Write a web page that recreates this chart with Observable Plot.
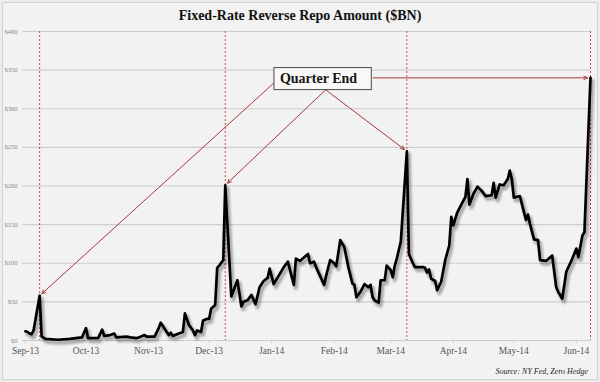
<!DOCTYPE html>
<html>
<head>
<meta charset="utf-8">
<script src="https://cdn.jsdelivr.net/npm/d3@7"></script>
<script src="https://cdn.jsdelivr.net/npm/@observablehq/plot@0.6"></script>
<style>
  html, body { margin: 0; padding: 0; background: #ececec; }
  #wrap { position: relative; width: 600px; height: 382px; background: #ececec; overflow: hidden; }
  #frame { position: absolute; left: 2px; top: 2px; width: 594px; height: 376px; border: 1px solid #d2d2d2; background: #f2f2f2; }
  #title { position: absolute; left: 0; top: 8px; width: 600px; text-align: center; font: bold 14px "Liberation Serif", serif; line-height: 16px; color: #111; }
  #chart { position: absolute; left: 0; top: 27px; }
  #source { position: absolute; right: 12px; top: 366px; font: italic 8px "Liberation Serif", serif; line-height: 12px; color: #222; }
</style>
</head>
<body>
<div id="wrap">
  <div id="frame"></div>
  <div id="title">Fixed-Rate Reverse Repo Amount ($BN)</div>
  <div id="chart"></div>
  <div id="source">Source: NY Fed, Zero Hedge</div>
</div>
<script>
// ---- data ----
const dates = [
  "2013-09-23","2013-09-24","2013-09-25","2013-09-26","2013-09-27","2013-09-30",
  "2013-10-01","2013-10-03","2013-10-09","2013-10-15","2013-10-21","2013-10-23","2013-10-24","2013-10-29","2013-10-31",
  "2013-11-01","2013-11-04","2013-11-06","2013-11-07","2013-11-12","2013-11-14","2013-11-17","2013-11-19","2013-11-21",
  "2013-11-22","2013-11-26","2013-11-28","2013-11-29",
  "2013-12-02","2013-12-03","2013-12-04","2013-12-05","2013-12-08","2013-12-10","2013-12-11","2013-12-13","2013-12-15",
  "2013-12-16","2013-12-17","2013-12-19","2013-12-20","2013-12-22","2013-12-23","2013-12-24","2013-12-26","2013-12-27",
  "2013-12-28","2013-12-30","2013-12-31",
  "2014-01-03","2014-01-06","2014-01-08","2014-01-09","2014-01-11","2014-01-13","2014-01-15","2014-01-17","2014-01-19",
  "2014-01-21","2014-01-22","2014-01-24","2014-01-27","2014-01-29","2014-01-31",
  "2014-02-03","2014-02-04","2014-02-06","2014-02-10","2014-02-11","2014-02-13","2014-02-14","2014-02-18","2014-02-19",
  "2014-02-21","2014-02-23","2014-02-24","2014-02-26","2014-02-28",
  "2014-03-02","2014-03-04","2014-03-05","2014-03-06","2014-03-08","2014-03-10","2014-03-12","2014-03-13","2014-03-14",
  "2014-03-15","2014-03-17","2014-03-18","2014-03-20","2014-03-21","2014-03-23","2014-03-24","2014-03-25","2014-03-26",
  "2014-03-28","2014-03-31",
  "2014-04-01","2014-04-03","2014-04-04","2014-04-08","2014-04-09","2014-04-10","2014-04-11","2014-04-12","2014-04-14",
  "2014-04-15","2014-04-17","2014-04-19","2014-04-21","2014-04-22","2014-04-23","2014-04-25","2014-04-28","2014-04-29",
  "2014-04-30",
  "2014-05-01","2014-05-03","2014-05-05","2014-05-07","2014-05-09","2014-05-12","2014-05-13","2014-05-14","2014-05-16",
  "2014-05-18","2014-05-20","2014-05-21","2014-05-22","2014-05-23","2014-05-26","2014-05-29","2014-05-30","2014-05-31",
  "2014-06-02","2014-06-04","2014-06-05","2014-06-08","2014-06-11","2014-06-13","2014-06-14","2014-06-16","2014-06-18",
  "2014-06-21","2014-06-23","2014-06-24","2014-06-26","2014-06-27","2014-06-30"
];
const values = [
  12, 11, 9, 8, 13, 58,
  5, 2, 1, 2, 4, 16, 3, 3, 14,
  6, 7, 9, 4, 5, 4, 3, 5, 7,
  5, 5, 16, 23,
  11, 7, 10, 6, 9, 11, 35, 20, 13,
  7, 13, 11, 26, 28, 28, 41, 46, 94,
  97, 104, 201,
  57, 78, 44, 50, 52, 59, 47, 69, 77,
  81, 93, 73, 86, 95, 102,
  72, 106, 103, 112, 100, 102, 95, 72, 84,
  104, 100, 96, 130, 121,
  95, 74, 72, 56, 63, 73, 69, 72, 56,
  52, 49, 78, 78, 97, 91, 82, 97, 106,
  128, 245,
  112, 100, 95, 95, 94, 88, 92, 80, 77,
  65, 76, 104, 123, 160, 149, 166, 181, 186,
  209,
  176, 190, 199, 194, 187, 188, 204, 185, 202,
  201, 209, 220, 209, 185, 187, 156, 163, 151,
  131, 130, 104, 103, 110, 69, 63, 54, 89,
  106, 119, 108, 136, 140, 340
];
const xDomain = ["2013-09-23", "2014-06-30"];
const xTicks = ["2013-09-23","2013-10-23","2013-11-23","2013-12-23","2014-01-23","2014-02-23","2014-03-23","2014-04-23","2014-05-23","2014-06-23"];
const yTicks = [0, 50, 100, 150, 200, 250, 300, 350, 400];
const quarterEnds = ["2013-09-30", "2013-12-31", "2014-03-31", "2014-06-30"];
const quarterPeaks = [58, 201, 245, 340];
// annotation: label anchor and arrow tails (in data units)
const labelText = "Quarter End";
const labelAt = { date: "2014-02-15T05:00Z", value: 339 };
const arrowTailDates = ["2014-01-25T10:00Z", "2014-02-18T18:00Z", "2014-02-18T18:00Z", "2014-03-14T07:00Z"];
const arrowTailValues = [336.5, 324.5, 324.5, 340];

// ---- build ----
const series = dates.map((d, i) => ({ date: new Date(d), value: values[i] }));
const arrows = quarterEnds.map((d, i) => ({
  x1: new Date(arrowTailDates[i]), y1: arrowTailValues[i],
  x2: new Date(d), y2: quarterPeaks[i]
}));

const red = "#a8373a";
const chart = Plot.plot({
  width: 600,
  height: 330,
  marginTop: 4,
  marginBottom: 17,
  marginLeft: 25,
  marginRight: 10,
  style: { background: "transparent", fontFamily: "'Liberation Serif', serif" },
  x: { type: "utc", domain: xDomain.map(d => new Date(d)) },
  y: { domain: [0, 400] },
  marks: [
    Plot.gridY({ ticks: yTicks, stroke: "#cdcdcd", strokeOpacity: 1, strokeWidth: 1.2 }),
    Plot.axisY({ ticks: yTicks, tickSize: 3, tickPadding: 5, stroke: "#cdcdcd", fill: "#888", fontSize: 6.5, tickFormat: d => "$" + d, label: null }),
    Plot.axisX({ ticks: xTicks.map(d => new Date(d)), tickSize: 3, tickPadding: 4, stroke: "#cccccc", fill: "#555", fontSize: 9.5, tickFormat: d3.utcFormat("%b-%y"), label: null }),
    Plot.ruleX(quarterEnds.map(d => new Date(d)), { stroke: "#c0504d", strokeDasharray: "2,2", strokeWidth: 1 }),
    Plot.line(series, { x: "date", y: "value", stroke: "#000", strokeOpacity: 0.3, strokeWidth: 4, dx: 2, dy: 3, strokeLinejoin: "round" }),
    Plot.line(series, { x: "date", y: "value", stroke: "#000", strokeWidth: 2.7, strokeLinejoin: "round" }),
    Plot.arrow(arrows, { x1: "x1", y1: "y1", x2: "x2", y2: "y2", stroke: red, strokeWidth: 1, headLength: 6, headAngle: 50, insetEnd: 3 }),
    Plot.text([labelAt], { x: d => new Date(d.date), y: "value", text: () => labelText, fontSize: 14, fontWeight: "bold", fill: "#151515", fontFamily: "'Liberation Serif', serif" })
  ]
});
document.getElementById("chart").appendChild(chart);

const svg = chart.tagName.toLowerCase() === "svg" ? chart : chart.querySelector("svg");
const NS = "http://www.w3.org/2000/svg";

// soft blur for the line's shadow
const defs = document.createElementNS(NS, "defs");
const filter = document.createElementNS(NS, "filter");
filter.setAttribute("id", "soft");
filter.setAttribute("x", "-5%"); filter.setAttribute("y", "-5%");
filter.setAttribute("width", "110%"); filter.setAttribute("height", "110%");
const blur = document.createElementNS(NS, "feGaussianBlur");
blur.setAttribute("stdDeviation", "1.3");
filter.appendChild(blur);
defs.appendChild(filter);
svg.insertBefore(defs, svg.firstChild);
const shadowG = svg.querySelector('g[stroke-opacity="0.3"]');
if (shadowG) shadowG.setAttribute("filter", "url(#soft)");

// box behind the label
const labelNode = Array.from(svg.querySelectorAll("text")).find(t => t.textContent === labelText);
if (labelNode) {
  const sr = svg.getBoundingClientRect();
  const tr = labelNode.getBoundingClientRect();
  const cy = tr.top - sr.top + tr.height / 2;
  const rect = document.createElementNS(NS, "rect");
  rect.setAttribute("x", tr.left - sr.left - 6);
  rect.setAttribute("y", cy - 11);
  rect.setAttribute("width", tr.width + 20);
  rect.setAttribute("height", 22);
  rect.setAttribute("fill", "#f8f8f8");
  rect.setAttribute("stroke", "#4a4a4a");
  rect.setAttribute("stroke-width", 1);
  let g = labelNode;
  while (g.parentNode !== svg) g = g.parentNode;
  svg.insertBefore(rect, g);
}
</script>
</body>
</html>
